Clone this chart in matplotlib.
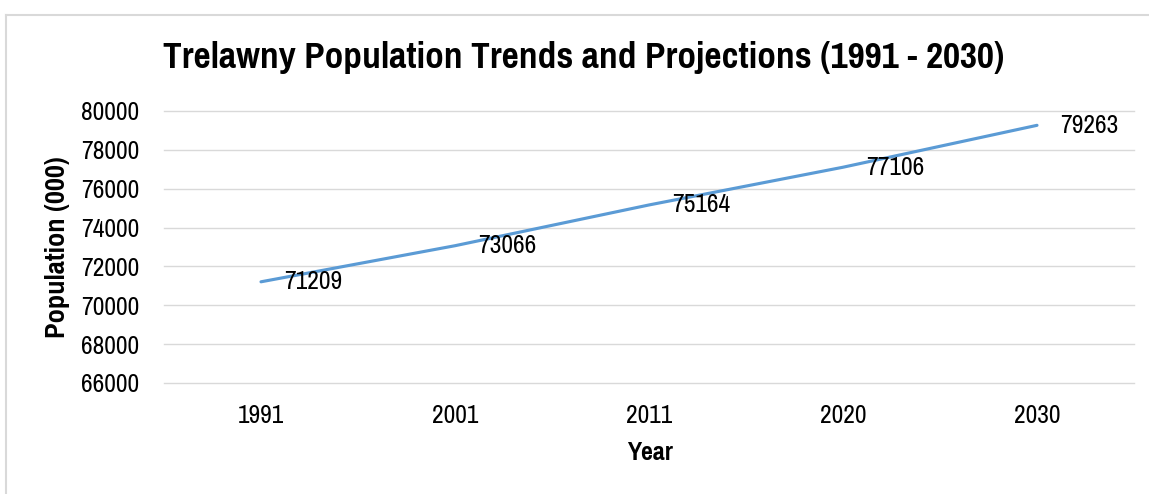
import matplotlib
matplotlib.use('Agg')
import matplotlib.pyplot as plt
from matplotlib import font_manager
from matplotlib.lines import Line2D

years = ['1991', '2001', '2011', '2020', '2030']
population = [71209, 73066, 75164, 77106, 79263]
y_ticks = [66000, 68000, 70000, 72000, 74000, 76000, 78000, 80000]

names = {f.name for f in font_manager.fontManager.ttflist}
narrow = next((n for n in ['Pragati Narrow', 'Roboto Condensed', 'Liberation Sans']
               if n in names), 'DejaVu Sans')
plt.rcParams['font.family'] = [narrow, 'DejaVu Sans']

W, H = 1149, 494
fig = plt.figure(figsize=(W / 100, H / 100), dpi=100)
renderer = fig.canvas.get_renderer()


def fit_size(text, width_px, bold=False):
    # pick a font size so the text spans roughly width_px
    t = fig.text(0, 0, text, fontsize=20, fontweight='bold' if bold else 'normal')
    w = t.get_window_extent(renderer).width
    t.remove()
    return 20 * width_px / w


tick_fs = fit_size('80000', 58)
title_fs = fit_size('Trelawny Population Trends and Projections (1991 - 2030)', 838, bold=True)
ylab_fs = fit_size('Population (000)', 181, bold=True)
xlab_fs = fit_size('Year', 46, bold=True)

ax = fig.add_axes([164 / W, 1 - 383 / H, (1134 - 164) / W, (383 - 111) / H])

x = range(len(years))
ax.plot(x, population, color='#5B9BD5', linewidth=2.25, solid_capstyle='round', zorder=3)
for xi, v in zip(x, population):
    ax.annotate(str(v), (xi, v), xytext=(17, 0), textcoords='offset points',
                ha='left', va='center', fontsize=tick_fs, color='black')

ax.set_xlim(-0.5, len(years) - 0.5)
ax.set_ylim(66000, 80000)
ax.set_xticks(list(x))
ax.set_xticklabels(years)
ax.set_yticks(y_ticks)
ax.tick_params(axis='both', length=0, labelsize=tick_fs)
ax.tick_params(axis='y', pad=18)
ax.tick_params(axis='x', pad=15)
ax.grid(axis='y', color='#D9D9D9', linewidth=1.0)
for gl in ax.get_ygridlines():
    gl.set_clip_on(False)
ax.set_axisbelow(True)
for s in ax.spines.values():
    s.set_visible(False)

ax.set_ylabel('Population (000)', fontsize=ylab_fs, fontweight='bold')
ax.yaxis.set_label_coords((58 - 164) / (1134 - 164), 0.5)
ax.set_xlabel('Year', fontsize=xlab_fs, fontweight='bold')
ax.xaxis.set_label_coords((650 - 164) / (1134 - 164), -(452 - 383) / 272)
ax.xaxis.label.set_va('center')
ax.yaxis.label.set_va('center')

fig.text(584 / W, 1 - 57 / H, 'Trelawny Population Trends and Projections (1991 - 2030)',
         ha='center', va='center', fontsize=title_fs, fontweight='bold')

# chart area border
fig.add_artist(Line2D([6 / W, 6 / W], [0, 1 - 15 / H], transform=fig.transFigure,
                      color='#D9D9D9', linewidth=1.5))
fig.add_artist(Line2D([6 / W, 1], [1 - 15 / H, 1 - 15 / H], transform=fig.transFigure,
                      color='#D9D9D9', linewidth=1.5))

fig.savefig('out.png', dpi=100)
